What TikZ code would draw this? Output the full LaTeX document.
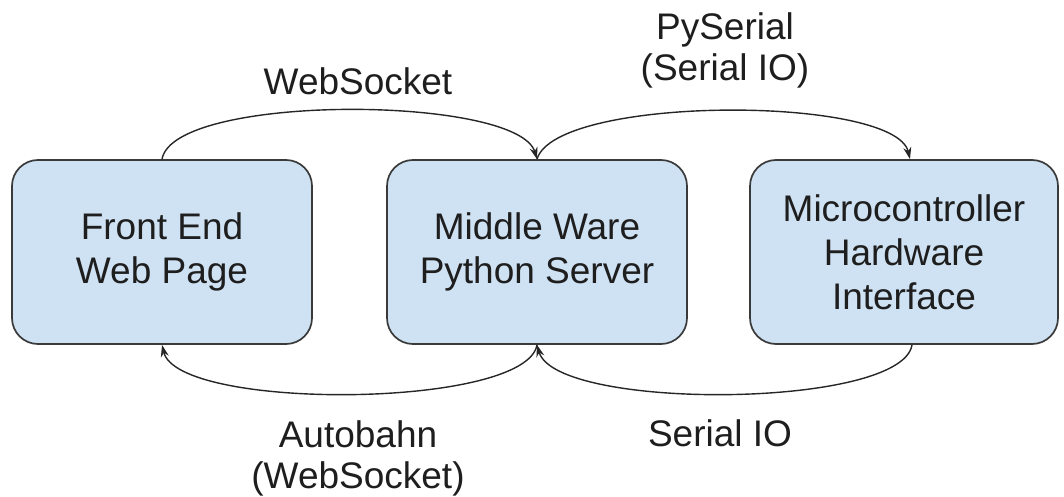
\documentclass[tikz,border=0pt]{standalone}
\usepackage{fontspec}
\setmainfont{Liberation Sans}
\usetikzlibrary{arrows.meta}
\definecolor{boxfill}{HTML}{CFE2F3}
\definecolor{boxline}{HTML}{3A3A3A}
\definecolor{txt}{HTML}{1E1E1E}
\tikzset{
  box/.style={draw=boxline, fill=boxfill, line width=1.7pt, rounded corners=26pt,
    minimum height=184pt, align=center, inner sep=0pt, text=txt,
    font=\fontsize{37}{44}\selectfont},
  conn/.style={draw=black!85, line width=1.4pt, -{Stealth[length=12pt,width=8pt]}},
  lbl/.style={align=center, font=\fontsize{37}{41}\selectfont, inner sep=0pt, text=txt}
}
\begin{document}
\begin{tikzpicture}[x=1pt,y=-1pt]
\useasboundingbox (0,0) rectangle (1064,497);
\node[box, minimum width=300pt] (fe) at (162,252) {Front End\\Web Page};
\node[box, minimum width=300pt] (mw) at (537,252) {Middle Ware\\Python Server};
\node[box, minimum width=308pt] (mc) at (904,252) {Microcontroller\\Hardware\\Interface};

\draw[conn] (fe.north) .. controls (174,93) and (518,95) .. (mw.north);
\draw[conn] (mw.north) .. controls (556,95) and (895,95) .. ([xshift=6pt]mc.north);
\draw[conn] (mw.south) .. controls (526,409) and (178,411) .. (fe.south);
\draw[conn] ([xshift=8pt]mc.south) .. controls (902,409) and (556,411) .. (mw.south);

\node[lbl] (l1) at (358,81) {WebSocket};
\node[lbl] (l2) at (725,50) {PySerial\\(Serial IO)};
\node[lbl] (l3) at (358,458) {Autobahn\\(WebSocket)};
\node[lbl] (l4) at (720,433) {Serial IO};
\end{tikzpicture}
\end{document}
